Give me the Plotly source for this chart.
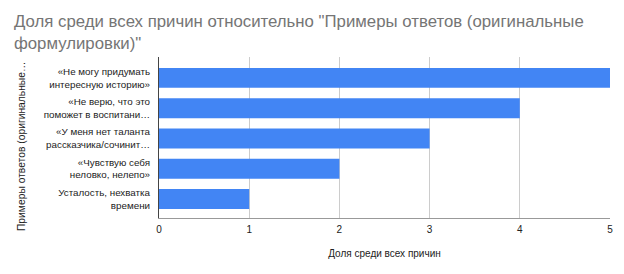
import plotly.graph_objects as go

categories = [
    "«Не могу придумать<br>интересную историю»",
    "«Не верю, что это<br>поможет в воспитани…",
    "«У меня нет таланта<br>рассказчика/сочинит…",
    "«Чувствую себя<br>неловко, нелепо»",
    "Усталость, нехватка<br>времени",
]
values = [5, 4, 3, 2, 1]
x_ticks = [0, 1, 2, 3, 4, 5]

fig = go.Figure(go.Bar(
    y=categories, x=values, orientation="h",
    marker=dict(color="#4285F4", line=dict(width=0)),
    width=0.66,
))

fig.update_layout(
    width=616, height=266,
    margin=dict(l=151, r=14, t=49, b=56),
    paper_bgcolor="white", plot_bgcolor="white",
    font=dict(family="Liberation Sans, Arial, sans-serif", size=10, color="#222222"),
    title=dict(
        text="Доля среди всех причин относительно \"Примеры ответов (оригинальные<br>формулировки)\"",
        x=0.0097, xanchor="left", y=0.927, yanchor="top",
        font=dict(size=16.8, color="#757575"),
    ),
    showlegend=False,
    xaxis=dict(
        range=[0, 5], tickvals=x_ticks, showgrid=True, gridcolor="#cccccc",
        zeroline=False, showline=True, linecolor="#999999", linewidth=1,
        ticks="", ticklabelstandoff=2,
        tickfont=dict(size=10, color="#222222"),
        title=dict(text="Доля среди всех причин", font=dict(size=10, color="#222222"), standoff=15),
    ),
    yaxis=dict(
        range=[4.63, -0.69], showline=True, linecolor="#444444", linewidth=1,
        ticks="", ticklabelstandoff=6, showgrid=False,
        tickfont=dict(size=9.8, color="#222222"),
    ),
    annotations=[dict(
        text="Примеры ответов (оригинальные…",
        xref="paper", yref="paper", x=-0.306, y=0.447,
        textangle=-90, showarrow=False, xanchor="center", yanchor="middle",
        font=dict(size=10.3, color="#222222"),
    )],
)

fig.write_html("out.html")
